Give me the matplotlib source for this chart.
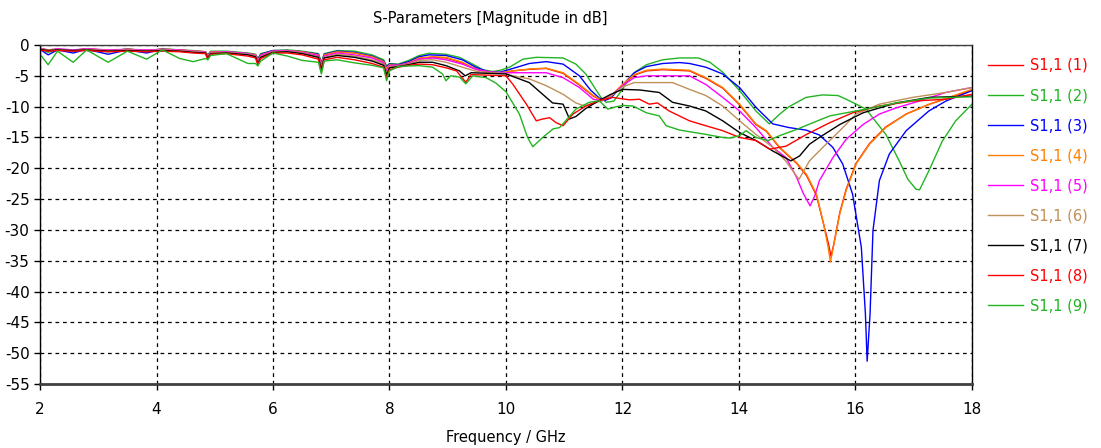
import matplotlib
matplotlib.use('Agg')
import matplotlib.pyplot as plt

plt.rcParams['font.family'] = ['DejaVu Sans']
plt.rcParams['axes.unicode_minus'] = False

# shared low-band frequencies (GHz), 2 .. 8.15
low_f = [2.0, 2.14, 2.3, 2.57, 2.8, 3.17, 3.5, 3.83, 4.1, 4.4, 4.63, 4.84, 4.88, 4.93,
         5.2, 5.57, 5.7, 5.74, 5.79, 6.0, 6.25, 6.5, 6.78, 6.83, 6.88, 7.1, 7.4, 7.7,
         7.9, 7.95, 8.0, 8.15]

# S1,1 (1) red
s1_low = [-0.6, -0.9, -0.7, -0.9, -0.6, -0.9, -0.7, -0.9, -0.7, -0.8, -1.0, -1.1, -1.8, -1.1,
          -1.1, -1.4, -1.6, -2.5, -1.6, -1.0, -0.9, -1.1, -1.6, -3.2, -1.6, -1.1, -1.3, -1.9,
          -2.7, -3.8, -3.2, -3.3]
s1_f = [8.33, 8.51, 8.74, 8.97, 9.25, 9.48, 9.71, 9.9, 10.12, 10.4, 10.69, 10.98, 11.26, 11.5,
        11.65, 11.8, 12.0, 12.2, 12.41, 12.69, 13.15, 13.43, 13.72, 14.01, 14.29, 14.47, 14.7,
        14.99, 15.16, 15.33, 15.44, 15.53, 15.58, 15.63, 15.73, 15.84, 16.01, 16.24, 16.52,
        16.87, 17.27, 17.66, 18.0]
s1_db = [-2.9, -2.2, -2.0, -2.1, -2.9, -3.9, -4.4, -4.5, -4.2, -3.95, -3.8, -4.6, -6.5, -8.3,
         -9.0, -8.3, -6.5, -4.9, -4.2, -4.0, -4.2, -5.4, -7.0, -9.7, -12.9, -14.0, -16.7,
         -19.2, -21.2, -24.4, -28.6, -32.0, -34.3, -32.2, -27.2, -23.4, -19.2, -16.0, -13.3,
         -11.2, -9.6, -8.4, -7.3]

# S1,1 (2) green, top
s2_low = [-0.6, -1.2, -0.7, -1.0, -0.6, -1.1, -0.6, -1.0, -0.6, -0.8, -0.9, -1.1, -1.6, -1.0,
          -1.0, -1.3, -1.5, -2.2, -1.4, -0.9, -0.8, -1.0, -1.4, -2.8, -1.4, -0.9, -1.0, -1.6,
          -2.4, -3.4, -3.0, -3.1]
s2_f = [8.33, 8.51, 8.68, 8.97, 9.2, 9.43, 9.6, 9.77, 9.9, 10.06, 10.29, 10.52, 10.98, 11.2,
        11.37, 11.52, 11.63, 11.72, 11.85, 12.0, 12.1, 12.23, 12.41, 12.69, 12.98, 13.3, 13.5,
        13.72, 14.01, 14.29, 14.52, 14.7, 14.86, 15.15, 15.43, 15.7, 15.84, 16.18, 16.52,
        16.75, 16.9, 17.04, 17.1, 17.26, 17.49, 17.72, 18.0]
s2_db = [-2.5, -1.7, -1.35, -1.5, -2.0, -3.1, -4.0, -4.3, -4.1, -3.6, -2.3, -2.0, -2.1, -3.1,
         -4.7, -6.9, -8.5, -9.3, -9.1, -7.2, -5.6, -4.3, -3.2, -2.4, -2.1, -2.1, -2.8,
         -4.4, -7.4, -10.7, -12.8, -11.2, -10.0, -8.5, -8.1, -8.2, -8.8, -10.4, -14.5,
         -18.8, -21.8, -23.4, -23.5, -20.4, -15.6, -12.3, -9.6]

# S1,1 (3) blue
s3_low = [-0.7, -1.6, -0.8, -1.3, -0.7, -1.5, -0.8, -1.3, -0.7, -1.0, -1.1, -1.2, -1.7, -1.1,
          -1.1, -1.4, -1.6, -2.3, -1.5, -0.9, -0.9, -1.1, -1.5, -3.0, -1.5, -1.0, -1.2, -1.8,
          -2.6, -3.6, -3.1, -3.2]
s3_f = [8.33, 8.51, 8.68, 8.97, 9.25, 9.48, 9.71, 9.9, 10.12, 10.4, 10.69, 10.98, 11.26, 11.45,
        11.6, 11.7, 11.8, 12.0, 12.2, 12.41, 12.69, 12.98, 13.15, 13.43, 13.72, 14.01, 14.29,
        14.58, 14.86, 15.15, 15.38, 15.61, 15.78, 15.95, 16.1, 16.17, 16.2, 16.25, 16.3,
        16.41, 16.58, 16.87, 17.26, 17.55, 18.0]
s3_db = [-2.7, -1.9, -1.6, -1.7, -2.4, -3.6, -4.4, -4.4, -3.8, -3.0, -2.7, -3.1, -5.0, -7.3,
         -8.6, -9.0, -8.6, -6.5, -4.5, -3.5, -3.0, -2.85, -3.0, -3.6, -4.7, -6.9, -10.1,
         -12.8, -13.4, -13.8, -14.6, -16.6, -19.3, -24.2, -32.8, -43.6, -51.3, -43.6, -30.1,
         -22.0, -17.7, -13.9, -10.7, -9.1, -7.4]

# S1,1 (4) orange
s4_low = [-0.6, -0.9, -0.7, -0.9, -0.6, -0.9, -0.7, -0.9, -0.7, -0.8, -1.0, -1.1, -1.8, -1.1,
          -1.1, -1.4, -1.6, -2.5, -1.6, -1.0, -0.9, -1.1, -1.6, -3.2, -1.6, -1.1, -1.3, -1.9,
          -2.7, -3.8, -3.2, -3.3]
s4_f = [8.33, 8.51, 8.74, 8.97, 9.25, 9.48, 9.71, 9.9, 10.12, 10.4, 10.69, 10.98, 11.26, 11.5,
        11.65, 11.8, 12.0, 12.2, 12.41, 12.69, 13.15, 13.43, 13.72, 14.01, 14.29, 14.47, 14.7,
        14.99, 15.16, 15.33, 15.44, 15.53, 15.57, 15.62, 15.73, 15.84, 16.01, 16.24, 16.52,
        16.87, 17.27, 17.66, 18.0]
s4_db = [-2.9, -2.1, -1.9, -2.0, -2.8, -3.9, -4.4, -4.5, -4.2, -3.9, -3.75, -4.5, -6.4, -8.2,
         -9.0, -8.3, -6.4, -4.8, -4.1, -3.9, -4.1, -5.3, -6.9, -9.6, -12.8, -13.9, -16.6,
         -19.1, -21.0, -24.2, -28.5, -32.8, -35.2, -32.8, -27.4, -23.6, -19.3, -16.1, -13.4,
         -11.2, -9.6, -8.3, -7.2]

# S1,1 (5) magenta
s5_low = [-0.5, -0.8, -0.6, -0.8, -0.6, -0.8, -0.7, -0.8, -0.7, -0.8, -1.0, -1.1, -1.9, -1.2,
          -1.1, -1.4, -1.7, -2.7, -1.7, -1.0, -0.9, -1.2, -1.7, -3.5, -1.8, -1.3, -1.6, -2.1,
          -2.9, -4.2, -3.3, -3.3]
s5_f = [8.33, 8.51, 8.74, 8.97, 9.25, 9.5, 9.75, 10.0, 10.4, 10.69, 10.98, 11.26, 11.5, 11.65,
        11.8, 12.0, 12.2, 12.41, 13.15, 13.43, 13.72, 14.01, 14.29, 14.58, 14.81, 14.99, 15.1,
        15.22, 15.3, 15.38, 15.61, 15.84, 16.13, 16.41, 16.7, 17.09, 17.55, 18.0]
s5_db = [-3.0, -2.3, -2.1, -2.4, -3.1, -4.0, -4.4, -4.5, -4.5, -4.5, -5.3, -6.9, -8.8, -9.05,
         -8.3, -6.6, -5.3, -5.0, -5.0, -6.4, -8.5, -10.7, -13.4, -16.6, -18.3, -21.5, -24.0,
         -26.1, -24.5, -22.0, -18.3, -15.3, -12.9, -11.2, -10.2, -9.1, -7.7, -6.9]

# S1,1 (6) brown
s6_low = [-0.6, -0.8, -0.7, -0.9, -0.7, -0.9, -0.8, -0.9, -0.8, -0.9, -1.1, -1.2, -2.0, -1.3,
          -1.2, -1.5, -1.8, -2.9, -1.9, -1.1, -1.0, -1.3, -1.9, -3.8, -2.0, -1.5, -1.8, -2.4,
          -3.1, -4.6, -3.5, -3.4]
s6_f = [8.33, 8.51, 8.74, 8.97, 9.25, 9.5, 9.75, 10.0, 10.11, 10.4, 10.69, 10.98, 11.2, 11.35,
        11.5, 11.65, 11.8, 12.0, 12.2, 12.86, 13.15, 13.43, 13.72, 14.01, 14.29, 14.58, 14.8,
        15.03, 15.21, 15.44, 15.73, 16.01, 16.41, 16.98, 17.55, 18.0]
s6_db = [-3.1, -2.5, -2.4, -2.8, -3.6, -4.3, -4.5, -4.6, -5.0, -5.5, -6.6, -8.0, -9.4, -9.9,
         -9.5, -9.0, -8.3, -6.8, -6.1, -6.1, -7.2, -8.2, -9.9, -12.3, -14.5, -16.6, -18.8,
         -21.8, -18.8, -16.6, -13.9, -11.2, -9.6, -8.5, -7.7, -6.9]

# S1,1 (7) black
s7_low = [-0.7, -0.9, -0.8, -0.9, -0.8, -1.0, -0.9, -1.0, -0.9, -1.0, -1.2, -1.3, -2.1, -1.4,
          -1.3, -1.6, -1.9, -3.0, -2.0, -1.2, -1.1, -1.4, -2.0, -4.0, -2.1, -1.7, -2.0, -2.6,
          -3.3, -4.9, -3.7, -3.5]
s7_f = [8.33, 8.51, 8.74, 8.97, 9.2, 9.3, 9.4, 9.7, 10.0, 10.4, 10.69, 10.8, 10.98, 11.09,
        11.2, 11.37, 11.6, 11.8, 12.0, 12.3, 12.63, 12.86, 13.15, 13.43, 13.72, 14.01, 14.29,
        14.58, 14.89, 15.04, 15.21, 15.38, 15.73, 16.13, 16.7, 17.27, 18.0]
s7_db = [-3.2, -2.8, -2.8, -3.35, -4.2, -5.0, -4.5, -4.6, -4.7, -6.1, -8.5, -9.4, -9.6, -12.0,
         -11.6, -10.3, -9.0, -8.0, -7.2, -7.3, -7.7, -9.3, -9.9, -10.7, -12.3, -14.2, -15.5,
         -17.2, -18.8, -18.0, -16.1, -15.0, -12.9, -11.0, -9.4, -8.5, -8.3]

# S1,1 (8) red
s8_low = [-0.8, -1.0, -0.9, -1.0, -0.9, -1.1, -1.0, -1.1, -1.0, -1.1, -1.3, -1.4, -2.3, -1.5,
          -1.4, -1.8, -2.1, -3.2, -2.2, -1.3, -1.3, -1.6, -2.3, -4.4, -2.4, -2.0, -2.4, -3.0,
          -3.6, -5.3, -4.0, -3.6]
s8_f = [8.33, 8.51, 8.74, 8.97, 9.15, 9.31, 9.4, 9.7, 10.0, 10.12, 10.35, 10.52, 10.63, 10.75,
        10.86, 10.98, 11.15, 11.37, 11.6, 11.83, 12.12, 12.29, 12.46, 12.6, 12.8, 13.15, 13.43,
        13.72, 14.01, 14.29, 14.53, 14.81, 15.16, 15.56, 15.95, 16.41, 16.98, 17.55, 18.0]
s8_db = [-3.3, -3.1, -3.2, -3.7, -4.2, -6.05, -4.8, -4.9, -5.0, -6.4, -9.6, -12.3, -12.0, -11.8,
         -12.6, -13.1, -11.2, -9.9, -9.0, -8.5, -8.9, -8.8, -9.6, -9.4, -10.7, -12.3, -13.1,
         -13.9, -15.0, -15.5, -16.9, -16.4, -14.5, -12.6, -11.0, -9.9, -9.1, -8.8, -8.0]

# S1,1 (9) green, bottom
s9_low = [-1.5, -3.2, -1.0, -2.8, -0.8, -2.8, -1.0, -2.3, -0.8, -2.2, -2.7, -2.2, -2.4, -1.7,
          -1.4, -3.0, -3.0, -3.4, -2.6, -1.3, -1.8, -2.5, -2.8, -4.7, -2.6, -2.4, -2.9, -3.3,
          -3.7, -5.8, -4.2, -3.5]
s9_f = [8.33, 8.51, 8.74, 8.91, 8.97, 9.05, 9.2, 9.31, 9.43, 9.66, 9.83, 10.0, 10.23, 10.37,
        10.46, 10.63, 10.81, 10.92, 11.2, 11.43, 11.6, 11.75, 11.9, 12.0, 12.18, 12.41, 12.63,
        12.75, 12.98, 13.43, 13.72, 13.85, 14.01, 14.12, 14.29, 14.5, 14.7, 14.99, 15.27,
        15.56, 15.84, 16.18, 16.7, 17.27, 18.0]
s9_db = [-3.4, -3.35, -3.6, -4.7, -5.8, -5.0, -5.2, -6.3, -5.0, -5.3, -6.2, -7.6, -11.2, -15.0,
         -16.5, -15.0, -13.6, -13.4, -10.4, -9.3, -9.05, -10.4, -10.0, -9.8, -9.9, -11.0, -11.5,
         -13.1, -13.8, -14.5, -15.0, -15.1, -14.7, -13.9, -15.0, -15.5, -14.7, -13.7, -12.6,
         -11.5, -11.0, -10.4, -9.4, -8.6, -8.4]

labels = ['S1,1 (%d)' % i for i in range(1, 10)]
colors = ['#FF0000', '#22B422', '#0000FF', '#FF8000', '#FF00FF', '#C0905A', '#000000',
          '#FF0000', '#22B422']
series = [(s1_low, s1_f, s1_db), (s2_low, s2_f, s2_db), (s3_low, s3_f, s3_db),
          (s4_low, s4_f, s4_db), (s5_low, s5_f, s5_db), (s6_low, s6_f, s6_db),
          (s7_low, s7_f, s7_db), (s8_low, s8_f, s8_db), (s9_low, s9_f, s9_db)]

x_ticks = [2, 4, 6, 8, 10, 12, 14, 16, 18]
y_ticks = [0, -5, -10, -15, -20, -25, -30, -35, -40, -45, -50, -55]

fig = plt.figure(figsize=(11.01, 4.48), dpi=100)
ax = fig.add_axes([40 / 1101, 64 / 448, 932 / 1101, 339 / 448])

for (lo, hf, hd), c, lab in zip(series, colors, labels):
    ax.plot(low_f + hf, lo + hd, color=c, linewidth=1.0, label=lab)

ax.set_xlim(2, 18)
ax.set_ylim(-55, 0)
ax.set_xticks(x_ticks)
ax.set_yticks(y_ticks)
ax.set_yticklabels([str(v) for v in y_ticks])
ax.grid(True, color='black', linestyle=(0, (3, 3)), linewidth=0.9)
ax.tick_params(labelsize=11, length=4, width=1, direction='out')
ax.tick_params(axis='x', pad=9)
for s in ['top', 'right', 'left']:
    ax.spines[s].set_linewidth(1.0)
ax.spines['bottom'].set_linewidth(2.0)
ax.spines['bottom'].set_color('#404040')
ax.spines['top'].set_color('#404040')

fig.text(490 / 1101, 1 - 18 / 448, 'S-Parameters [Magnitude in dB]', fontsize=10.5,
         ha='center', va='center')
ax.set_xlabel('Frequency / GHz', fontsize=10.5, labelpad=9)

leg = ax.legend(loc='upper left', bbox_to_anchor=(988 / 1101, 1 - 58 / 448),
                bbox_transform=fig.transFigure, frameon=False, fontsize=10.5,
                labelcolor='linecolor', handlelength=2.4, labelspacing=1.03,
                handletextpad=0.5, borderaxespad=0, borderpad=0)

fig.savefig('out.png', dpi=100, facecolor='white')
